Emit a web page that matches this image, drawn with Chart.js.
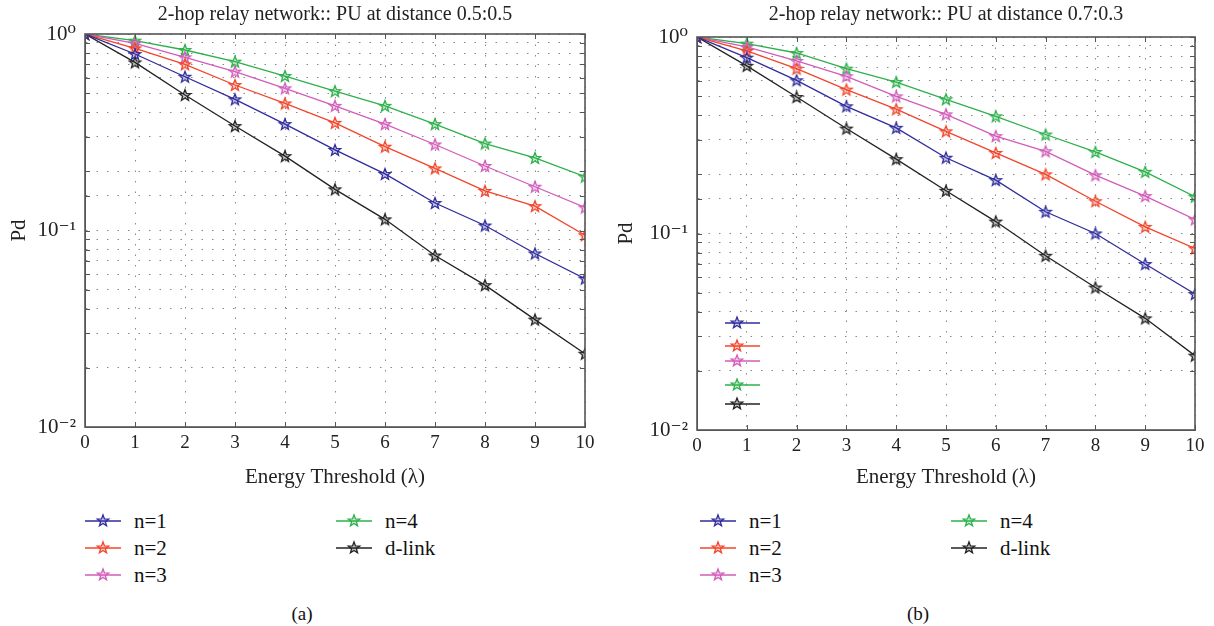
<!DOCTYPE html>
<html>
<head>
<meta charset="utf-8">
<script src="https://cdn.jsdelivr.net/npm/chart.js@4.4.0/dist/chart.umd.min.js"></script>
<style>
  body { margin: 0; width: 1214px; height: 626px; background: #fff; position: relative; overflow: hidden;
         font-family: "Liberation Serif", "DejaVu Serif", serif; color: #111; }
  canvas { position: absolute; top: 0; }
  #chart-a { left: 0; }
  #chart-b { left: 607px; }
  .legend-item { position: absolute; display: flex; align-items: center; height: 22px; font-size: 21px; white-space: nowrap;
                 font-family: "Liberation Serif", "DejaVu Serif", serif; }
  .legend-item svg { margin-right: 13px; }
  .caption { position: absolute; top: 603px; width: 60px; margin-left: -30px; text-align: center; font-size: 19px;
             font-family: "Liberation Serif", "DejaVu Serif", serif; }
</style>
</head>
<body>
<canvas id="chart-a" width="607" height="495"></canvas>
<canvas id="chart-b" width="607" height="495"></canvas>
<div id="legend-a"></div>
<div id="legend-b"></div>
<div class="caption" style="left:302px">(a)</div>
<div class="caption" style="left:918px">(b)</div>

<script>
// x values: energy threshold
const thresholds = [0, 1, 2, 3, 4, 5, 6, 7, 8, 9, 10];

const seriesLabels = ['n=1', 'n=2', 'n=3', 'n=4', 'd-link'];
const seriesColors = ['#2f2c9c', '#f2452a', '#d25cba', '#2cb14a', '#222222'];

// (a) PU at distance 0.5:0.5
const aN1 = [1, 0.791, 0.606, 0.465, 0.348, 0.257, 0.194, 0.138, 0.106, 0.0764, 0.0569];
const aN2 = [1, 0.845, 0.701, 0.550, 0.443, 0.353, 0.267, 0.207, 0.159, 0.133, 0.0946];
const aN3 = [1, 0.896, 0.761, 0.643, 0.529, 0.431, 0.348, 0.274, 0.213, 0.167, 0.131];
const aN4 = [1, 0.925, 0.829, 0.723, 0.611, 0.512, 0.431, 0.348, 0.277, 0.234, 0.188];
const aDlink = [1, 0.717, 0.489, 0.340, 0.239, 0.162, 0.114, 0.0746, 0.0527, 0.0352, 0.0236];

// (b) PU at distance 0.7:0.3
const bN1 = [1, 0.785, 0.602, 0.444, 0.345, 0.243, 0.187, 0.129, 0.100, 0.0699, 0.0492];
const bN2 = [1, 0.849, 0.690, 0.540, 0.429, 0.331, 0.257, 0.200, 0.146, 0.108, 0.0839];
const bN3 = [1, 0.890, 0.755, 0.631, 0.499, 0.404, 0.313, 0.262, 0.198, 0.155, 0.118];
const bN4 = [1, 0.925, 0.829, 0.690, 0.590, 0.482, 0.395, 0.319, 0.260, 0.206, 0.154];
const bDlink = [1, 0.713, 0.495, 0.342, 0.239, 0.165, 0.115, 0.0770, 0.0531, 0.0370, 0.0239];

const yMajorTicks = [0.01, 0.1, 1];
const yTickLabels = ['10\u207B\u00B2', '10\u207B\u00B9', '10\u2070'];
const xTickStep = 1;

const serif = '"Liberation Serif", "DejaVu Serif", serif';

// pentagram marker like MATLAB's 'p'
function drawStar(g, cx, cy, r, color) {
    g.beginPath();
    for (let k = 0; k < 10; k++) {
        const ang = -Math.PI / 2 + k * Math.PI / 5;
        const rr = k % 2 ? r * 0.42 : r;
        g.lineTo(cx + rr * Math.cos(ang), cy + rr * Math.sin(ang));
    }
    g.closePath();
    g.fillStyle = color + '40';
    g.fill();
    g.strokeStyle = color;
    g.lineWidth = 1.3;
    g.stroke();
}

const starCanvas = (color) => {
    const c = document.createElement('canvas');
    c.width = c.height = 16;
    drawStar(c.getContext('2d'), 8, 8.5, 6, color);
    return c;
};

// box around the plot plus inward tick marks
const boxPlugin = {
    id: 'box',
    afterDatasetsDraw(chart) {
        const { ctx, chartArea: a, scales } = chart;
        ctx.save();
        ctx.strokeStyle = '#555';
        ctx.lineWidth = 1;
        ctx.beginPath();
        scales.y.ticks.forEach(t => {
            const y = Math.round(scales.y.getPixelForValue(t.value)) + 0.5;
            ctx.moveTo(a.left, y); ctx.lineTo(a.left + 5, y);
            ctx.moveTo(a.right, y); ctx.lineTo(a.right - 5, y);
        });
        scales.x.ticks.forEach(t => {
            const x = Math.round(scales.x.getPixelForValue(t.value)) + 0.5;
            ctx.moveTo(x, a.bottom); ctx.lineTo(x, a.bottom - 5);
            ctx.moveTo(x, a.top); ctx.lineTo(x, a.top + 5);
        });
        ctx.stroke();
        ctx.lineWidth = 1.6;
        ctx.strokeRect(a.left, a.top, a.right - a.left, a.bottom - a.top);
        ctx.restore();
    }
};

// stray legend samples left inside panel (b)
const strayLegendPlugin = {
    id: 'strayLegend',
    afterDatasetsDraw(chart, args, opts) {
        if (!opts.rows) return;
        const { ctx, chartArea: a } = chart;
        ctx.save();
        opts.rows.forEach((dy, i) => {
            const y = a.top + dy;
            ctx.strokeStyle = seriesColors[i];
            ctx.lineWidth = 1.3;
            ctx.beginPath();
            ctx.moveTo(a.left + 28, y); ctx.lineTo(a.left + 63, y);
            ctx.stroke();
            drawStar(ctx, a.left + 40, y, 6, seriesColors[i]);
        });
        ctx.restore();
    }
};

const makeChart = (id, title, series, opts) => {
    const ctx = document.getElementById(id).getContext('2d');
    return new Chart(ctx, {
        type: 'line',
        data: {
            datasets: series.map((values, i) => ({
                label: seriesLabels[i],
                data: thresholds.map((x, j) => ({ x: x, y: values[j] })),
                borderColor: seriesColors[i],
                borderWidth: 1.3,
                pointStyle: starCanvas(seriesColors[i]),
                pointRadius: 6,
                fill: false,
                tension: 0,
            })),
        },
        options: {
            responsive: false,
            animation: false,
            layout: { padding: { left: 0, right: opts.padRight, top: 0, bottom: 0 } },
            plugins: {
                legend: { display: false },
                tooltip: { enabled: false },
                title: {
                    display: true,
                    fullSize: false,
                    text: title,
                    color: '#222',
                    font: { family: serif, size: 20, weight: 'normal' },
                    padding: { top: 3, bottom: opts.titleGap },
                },
                strayLegend: { rows: opts.stray },
            },
            scales: {
                x: {
                    type: 'linear',
                    min: 0,
                    max: 10,
                    ticks: {
                        stepSize: xTickStep,
                        color: '#222',
                        padding: 5,
                        maxRotation: 0,
                        font: { family: serif, size: 19 },
                    },
                    grid: { color: '#888', drawTicks: false },
                    border: { display: true, color: '#555', dash: [1.5, 9] },
                    title: {
                        display: true,
                        text: 'Energy Threshold (\u03BB)',
                        color: '#222',
                        font: { family: serif, size: 21 },
                        padding: { top: 0, bottom: 5 },
                    },
                    afterFit: (s) => { s.height = opts.xHeight; },
                },
                y: {
                    type: 'logarithmic',
                    min: 0.01,
                    max: 1,
                    ticks: {
                        color: '#222',
                        padding: 9,
                        font: { family: serif, size: 21 },
                        autoSkip: false,
                        callback: (v) => {
                            const k = yMajorTicks.findIndex(m => Math.abs(Math.log10(v) - Math.log10(m)) < 1e-6);
                            return k >= 0 ? yTickLabels[k] : '';
                        },
                    },
                    grid: { color: '#888', drawTicks: false },
                    border: { display: true, color: '#555', dash: [1.5, 9] },
                    title: {
                        display: true,
                        text: 'Pd',
                        color: '#222',
                        font: { family: serif, size: 21 },
                        padding: { top: 7, bottom: 0 },
                    },
                    afterFit: (s) => { s.width = opts.yWidth; },
                },
            },
        },
        plugins: [boxPlugin, strayLegendPlugin],
    });
};

makeChart('chart-a', '2-hop relay network:: PU at distance 0.5:0.5',
    [aN1, aN2, aN3, aN4, aDlink],
    { padRight: 22, titleGap: 7, xHeight: 68, yWidth: 85, stray: null });

makeChart('chart-b', '2-hop relay network:: PU at distance 0.7:0.3',
    [bN1, bN2, bN3, bN4, bDlink],
    { padRight: 19, titleGap: 10, xHeight: 65, yWidth: 90, stray: [286, 309, 324, 348, 367] });

// legend below each panel, two columns like the original
const buildLegend = (id, colX) => {
    const box = document.getElementById(id);
    seriesLabels.forEach((label, i) => {
        const col = i < 3 ? 0 : 1;
        const row = i < 3 ? i : i - 3;
        const item = document.createElement('div');
        item.className = 'legend-item';
        item.style.left = colX[col] + 'px';
        item.style.top = (510 + row * 27) + 'px';
        const c = seriesColors[i];
        const pts = [];
        for (let k = 0; k < 10; k++) {
            const ang = -Math.PI / 2 + k * Math.PI / 5;
            const rr = k % 2 ? 2.5 : 6;
            pts.push((18 + rr * Math.cos(ang)).toFixed(2) + ',' + (11 + rr * Math.sin(ang)).toFixed(2));
        }
        item.innerHTML = `
            <svg width="36" height="22"><line x1="0" y1="11" x2="36" y2="11" stroke="${c}" stroke-width="1.4"/>
            <polygon points="${pts.join(' ')}" fill="${c}40" stroke="${c}" stroke-width="1.3"/></svg>
            <span>${label}</span>`;
        box.appendChild(item);
    });
};

buildLegend('legend-a', [85, 336]);
buildLegend('legend-b', [700, 951]);
</script>
</body>
</html>
